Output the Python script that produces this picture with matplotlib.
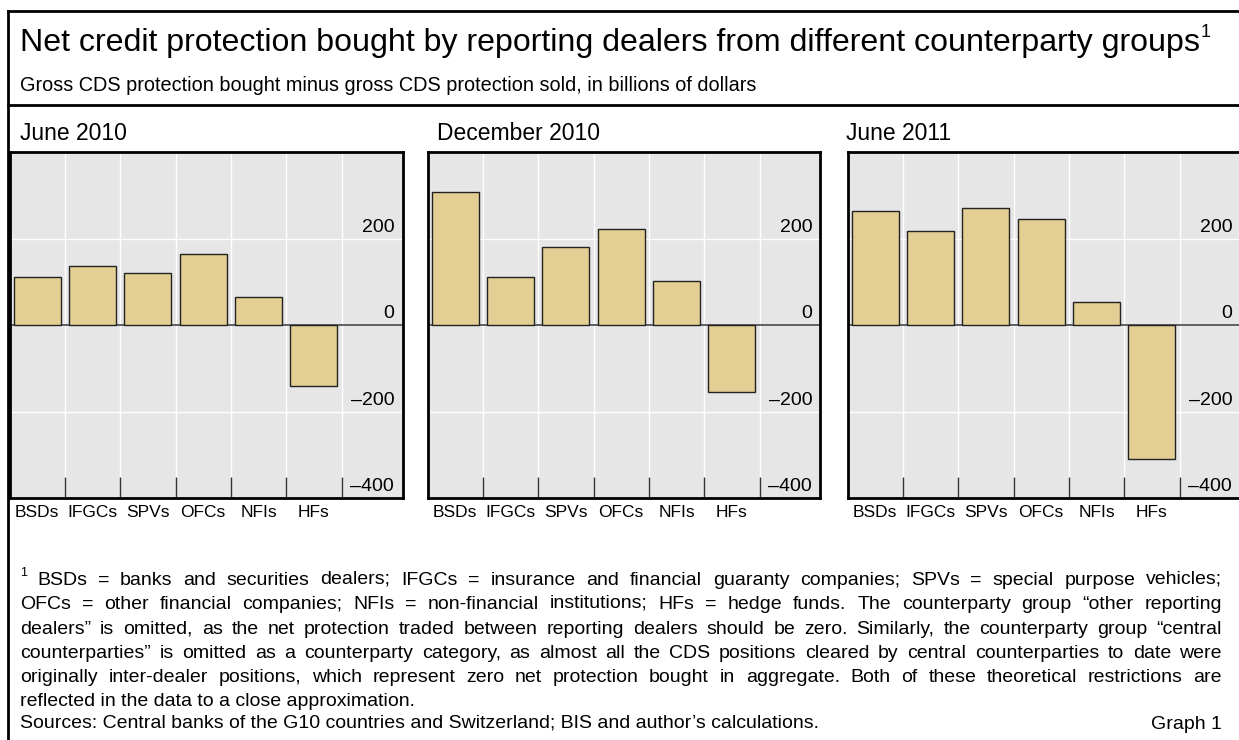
import numpy as np
import matplotlib
matplotlib.use("Agg")
import matplotlib.pyplot as plt
from matplotlib.ticker import FixedLocator

plt.rcParams['font.family'] = 'Liberation Sans'

W, H = 1239, 740

categories = ["BSDs", "IFGCs", "SPVs", "OFCs", "NFIs", "HFs"]
periods = ["June 2010", "December 2010", "June 2011"]
jun_2010 = [111, 137, 120, 164, 64, -140]
dec_2010 = [308, 112, 181, 222, 102, -155]
jun_2011 = [264, 218, 271, 246, 54, -310]
yticks = [-400, -200, 0, 200]

title = "Net credit protection bought by reporting dealers from different counterparty groups"
subtitle = "Gross CDS protection bought minus gross CDS protection sold, in billions of dollars"
footnote = [
    "BSDs = banks and securities dealers; IFGCs = insurance and financial guaranty companies; SPVs = special purpose vehicles;",
    "OFCs = other financial companies; NFIs = non-financial institutions; HFs = hedge funds. The counterparty group \u201cother reporting",
    "dealers\u201d is omitted, as the net protection traded between reporting dealers should be zero. Similarly, the counterparty group \u201ccentral",
    "counterparties\u201d is omitted as a counterparty category, as almost all the CDS positions cleared by central counterparties to date were",
    "originally inter-dealer positions, which represent zero net protection bought in aggregate. Both of these theoretical restrictions are",
    "reflected in the data to a close approximation.",
]
sources = "Sources: Central banks of the G10 countries and Switzerland; BIS and author\u2019s calculations."

BAR = "#e3cf93"
BG = "#e6e6e6"


def fx(x):
    return x / W


def fy(y):
    return 1 - y / H


def semicolon_nudge(s):
    # Agg drops strings whose only descender is ';' a little low
    if ";" in s and not any(c in s for c in "gjpqy"):
        return -1
    return 0


fig = plt.figure(figsize=(W / 100, H / 100), dpi=100)
renderer = fig.canvas.get_renderer()

# outer frame and header rule
frame = dict(color="black", lw=2, transform=fig.transFigure)
fig.add_artist(plt.Line2D([fx(8), fx(8)], [fy(11), fy(745)], **frame))
fig.add_artist(plt.Line2D([fx(8), fx(1245)], [fy(11), fy(11)], **frame))
fig.add_artist(plt.Line2D([fx(8), fx(1245)], [fy(105), fy(105)], **frame))

t = fig.text(fx(20), fy(51), title, fontsize=23.1, va="baseline")
bb = t.get_window_extent(renderer)
fig.text(bb.x1 / W + fx(1), fy(37), "1", fontsize=13, va="baseline")
fig.text(fx(20), fy(91), subtitle, fontsize=14.3, va="baseline")

panel_x = [9.5, 427.5, 847.5]
title_x = [20, 437, 846]
panel_w = 393
top, bottom = 152, 498
data = [jun_2010, dec_2010, jun_2011]
x = np.arange(len(categories))

for left, tx, name, vals in zip(panel_x, title_x, periods, data):
    ax = fig.add_axes([fx(left), fy(bottom), panel_w / W, (bottom - top) / H])
    ax.set_facecolor(BG)
    ax.set_xlim(-0.5, 6.6)
    ax.set_ylim(-400, 400)
    for b in np.arange(0.5, 6, 1):
        ax.axvline(b, color="white", lw=1, zorder=0)
    for v in (-200, 200):
        ax.axhline(v, color="white", lw=1, zorder=0)
    ax.axhline(0, color="#555555", lw=1.3, zorder=1)
    ax.bar(x, vals, width=0.85, color=BAR, edgecolor="#222222", lw=1, zorder=2)

    ax.set_xticks(x)
    ax.set_xticklabels(categories, fontsize=12.5)
    ax.tick_params(axis="x", which="major", length=0, pad=5)
    ax.xaxis.set_minor_locator(FixedLocator(np.arange(0.5, 6, 1)))
    ax.tick_params(axis="x", which="minor", direction="in", length=15,
                   width=1, color="#333333")
    ax.set_yticks([])
    for v in yticks:
        ax.annotate(f"{v}".replace("-", "\u2013"), xy=(1, v),
                    xycoords=ax.get_yaxis_transform(),
                    xytext=(-6, 2), textcoords="offset points",
                    ha="right", va="bottom", fontsize=14)
    for s in ax.spines.values():
        s.set_linewidth(2)
    fig.text(fx(tx), fy(139.5), name, fontsize=16.5, va="baseline")

# footnote, justified between the margins
x0, x1 = 37, 1222
fs = 14
fig.text(fx(20), fy(576), "1", fontsize=9, va="baseline")
for i, line in enumerate(footnote):
    line_y = round(585 + 24.3 * i)
    if i == len(footnote) - 1:
        fig.text(fx(20), fy(line_y), line, fontsize=fs, va="baseline")
        break
    words = line.split(" ")
    arts = [fig.text(0, fy(line_y + semicolon_nudge(w)), w, fontsize=fs,
                     va="baseline") for w in words]
    widths = [a.get_window_extent(renderer).width for a in arts]
    start = x0 if i == 0 else 20
    gap = (x1 - start - sum(widths)) / (len(words) - 1)
    pos = start
    for a, w in zip(arts, widths):
        a.set_x(fx(pos))
        pos += w + gap

fig.text(fx(20), fy(729 + semicolon_nudge(sources)), sources, fontsize=fs,
         va="baseline")
fig.text(fx(1222), fy(729), "Graph 1", fontsize=fs, va="baseline", ha="right")

fig.savefig("out.png", dpi=100)
